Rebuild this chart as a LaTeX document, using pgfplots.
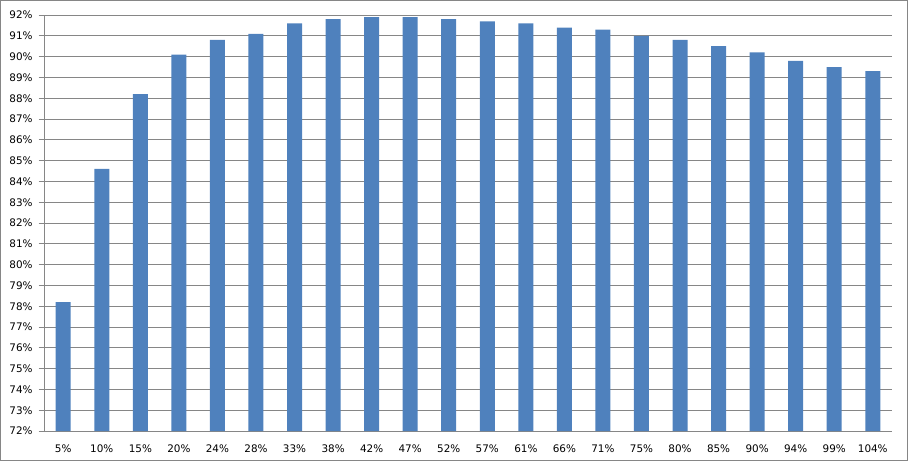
\documentclass[border=0pt]{standalone}
\usepackage{pgfplots}
\pgfplotsset{compat=1.18}
\usepackage{fontspec}
\setmainfont{DejaVu Sans}
\definecolor{barblue}{HTML}{4F81BD}
\definecolor{gridgray}{HTML}{868686}
\begin{document}
\begin{tikzpicture}
\begin{axis}[
    scale only axis, width=636pt, height=312pt,
    xmin=-0.5, xmax=21.5, ymin=72, ymax=92,
    axis lines=left, axis line style={gridgray, -}, 
    xtick=data,
    xticklabels={5\%,10\%,15\%,20\%,24\%,28\%,33\%,38\%,42\%,47\%,52\%,57\%,61\%,66\%,71\%,75\%,80\%,85\%,90\%,94\%,99\%,104\%},
    ytick={72,73,...,92},
    yticklabel={\pgfmathprintnumber{\tick}\%},
    /pgf/number format/assume math mode=true,
    ymajorgrids, major grid style={gridgray, line width=0.75pt},
    x tick style={draw=none}, y tick style={gridgray, line width=0.75pt},
    tick align=outside, major tick length=4pt,
    ticklabel style={font=\fontsize{7.8}{9}\selectfont, text=black},
    xticklabel style={yshift=-3pt},
    yticklabel style={xshift=-1pt},
]
\addplot[ybar, bar width=11.25pt, fill=barblue, draw=none] coordinates {
    (0,78.2) (1,84.6) (2,88.2) (3,90.1) (4,90.8) (5,91.1) (6,91.6) (7,91.8)
    (8,91.9) (9,91.9) (10,91.8) (11,91.7) (12,91.6) (13,91.4) (14,91.3)
    (15,91.0) (16,90.8) (17,90.5) (18,90.2) (19,89.8) (20,89.5) (21,89.3)
};
\end{axis}
\draw[gridgray, line width=0.75pt] ([xshift=-32.6pt,yshift=-22.1pt]current axis.south west) rectangle ([xshift=11.6pt,yshift=10.9pt]current axis.north east);
\end{tikzpicture}
\end{document}
